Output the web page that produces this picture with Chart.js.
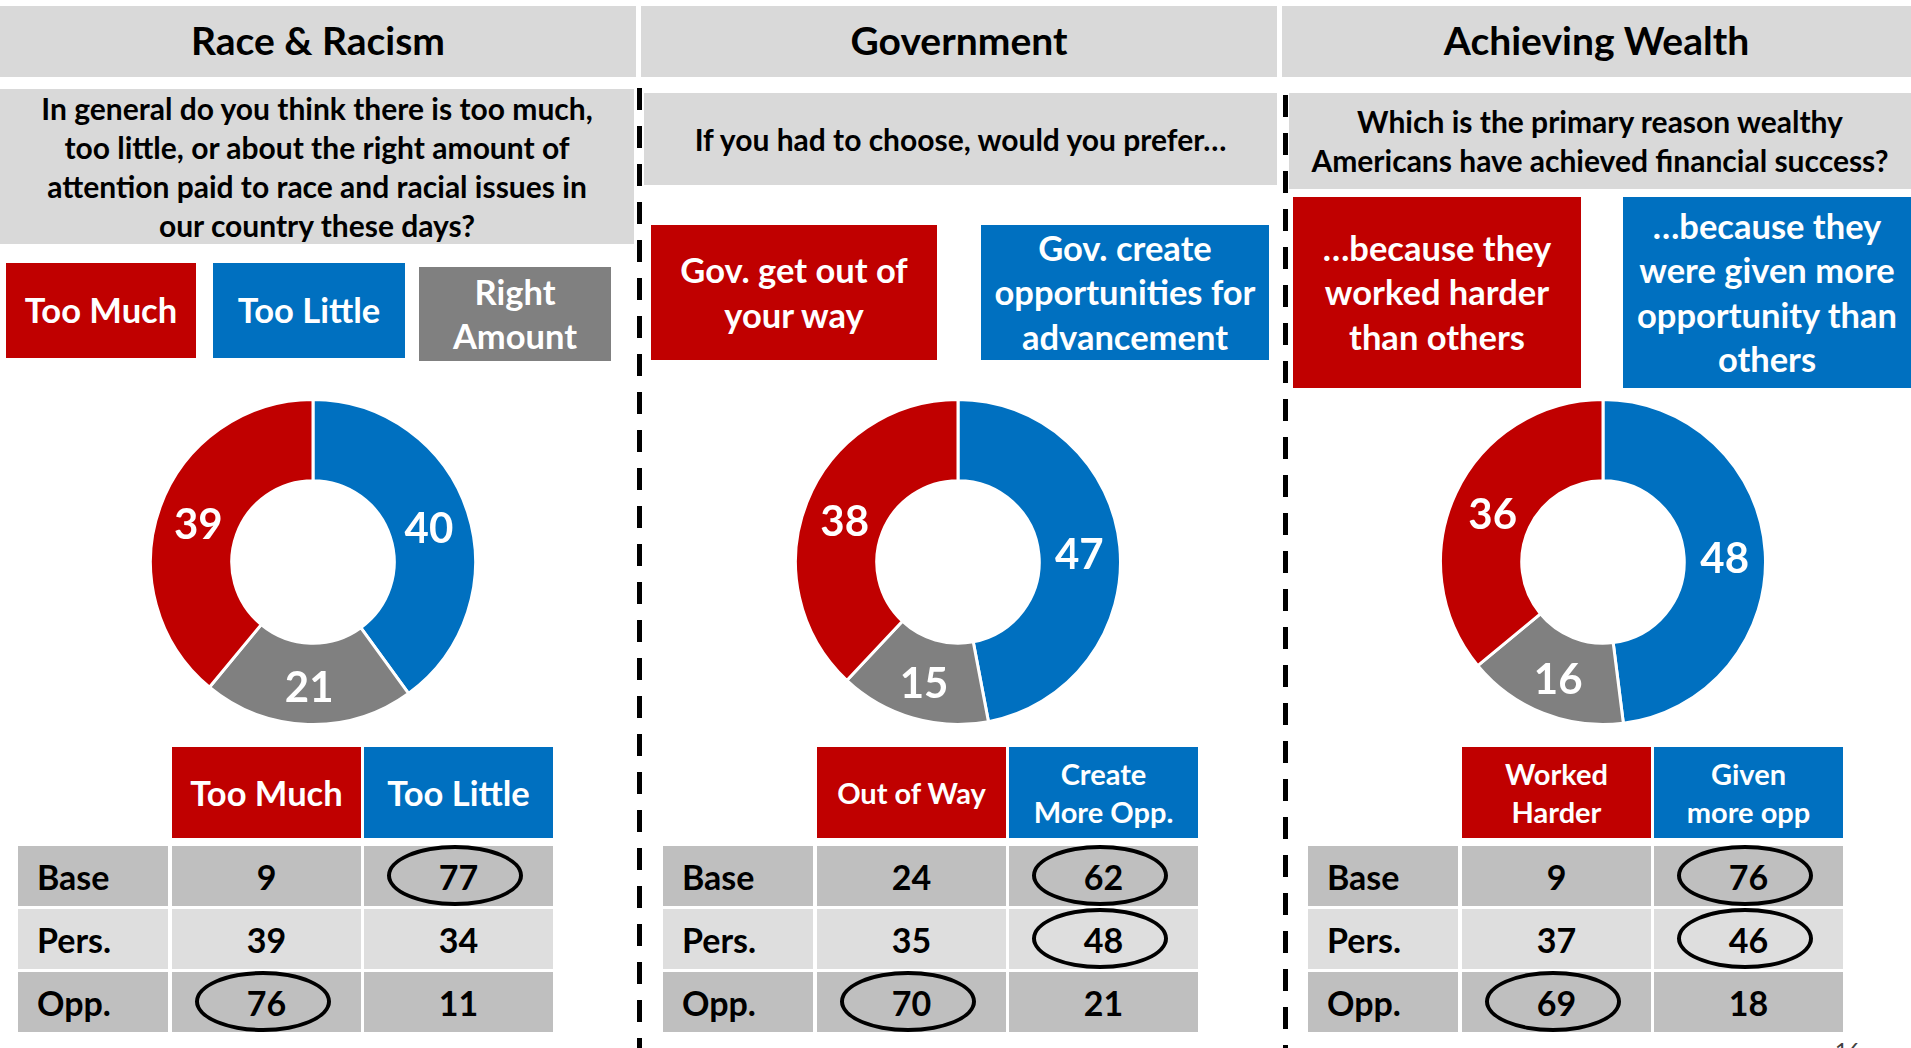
<!DOCTYPE html>
<html>
<head>
<meta charset="utf-8">
<script src="https://cdn.jsdelivr.net/npm/chart.js@4.4.1/dist/chart.umd.min.js"></script>
<style>
  html, body { margin: 0; padding: 0; background: #fff; }
  body { width: 1911px; height: 1048px; position: relative; overflow: hidden; font-family: Lato, "Open Sans", sans-serif; font-weight: 700; }
  .box { position: absolute; display: flex; align-items: center; justify-content: center; text-align: center; box-sizing: border-box; }
  .title { background: #d9d9d9; color: #000; font-size: 39px; padding-bottom: 4px; }
  .question { background: #d9d9d9; color: #000; font-size: 30px; line-height: 39px; }
  .legend { color: #fff; font-size: 34.5px; line-height: 44.5px; }
  .cell { font-size: 34px; color: #000; }
  .rowlabel { justify-content: flex-start; padding-left: 19px; }
  .thead { color: #fff; }
  .ring { position: absolute; border: 4px solid #000; border-radius: 50%; box-sizing: border-box; }
  .dash { position: absolute; width: 5px; background: repeating-linear-gradient(to bottom, #000 0 22px, transparent 22px 38px); }
  canvas { position: absolute; }
</style>
</head>
<body>
<script>
// Daten
const panelTitles = ['Race & Racism', 'Government', 'Achieving Wealth'];
const questions = [
    'In general do you think there is too much,<br>too little, or about the right amount of<br>attention paid to race and racial issues in<br>our country these days?',
    'If you had to choose, would you prefer\u2026',
    'Which is the primary reason wealthy<br>Americans have achieved financial success?'
];
const legendLabels = [
    ['Too Much', 'Too Little', 'Right<br>Amount'],
    ['Gov. get out of<br>your way', 'Gov. create<br>opportunities for<br>advancement'],
    ['\u2026because they<br>worked harder<br>than others', '\u2026because they<br>were given more<br>opportunity than<br>others']
];
// order: blue, gray, red (clockwise from top)
const donutLabels = ['Blue', 'Gray', 'Red'];
const raceValues = [40, 21, 39];
const govValues = [47, 15, 38];
const wealthValues = [48, 16, 36];
const donutValues = [raceValues, govValues, wealthValues];

const tableHeaders = [
    ['Too Much', 'Too Little'],
    ['Out of Way', 'Create<br>More Opp.'],
    ['Worked<br>Harder', 'Given<br>more opp']
];
const rowLabels = ['Base', 'Pers.', 'Opp.'];
const raceTable = [[9, 77], [39, 34], [76, 11]];
const govTable = [[24, 62], [35, 48], [70, 21]];
const wealthTable = [[9, 76], [37, 46], [69, 18]];
const tableValues = [raceTable, govTable, wealthTable];
// [row, col] of circled values
const circled = [
    [[0, 1], [2, 0]],
    [[0, 1], [1, 1], [2, 0]],
    [[0, 1], [1, 1], [2, 0]]
];

const RED = '#c00000', BLUE = '#0070c0', GRAY = '#808080';

// Layout
const titleBoxes = [[0, 6, 636, 71], [641, 6, 636, 71], [1282, 6, 629, 71]];
const questionBoxes = [[0, 89, 634, 155], [644, 93, 633, 92], [1289, 93, 622, 96]];
const legendBoxes = [
    [[6, 263, 190, 95, RED], [213, 263, 192, 95, BLUE], [419, 267, 192, 94, GRAY]],
    [[651, 225, 286, 135, RED], [981, 225, 288, 135, BLUE]],
    [[1293, 197, 288, 191, RED], [1623, 197, 288, 191, BLUE]]
];
const donutCenters = [[313, 562], [958, 562], [1603, 562]];
const panelOffset = 645;

function addBox(cls, x, y, w, h, html, bg) {
    const d = document.createElement('div');
    d.className = 'box ' + cls;
    d.style.left = x + 'px';
    d.style.top = y + 'px';
    d.style.width = w + 'px';
    d.style.height = h + 'px';
    if (bg) d.style.background = bg;
    d.innerHTML = html;
    document.body.appendChild(d);
    return d;
}

// dashed separators
[[637, 88], [1283, 95]].forEach(([x, y]) => {
    const d = document.createElement('div');
    d.className = 'dash';
    d.style.left = x + 'px';
    d.style.top = y + 'px';
    d.style.height = (1048 - y) + 'px';
    document.body.appendChild(d);
});

const labelPlugin = {
    id: 'arcLabels',
    afterDatasetsDraw(chart) {
        const ctx = chart.ctx;
        const meta = chart.getDatasetMeta(0);
        ctx.save();
        ctx.fillStyle = '#fff';
        ctx.font = '700 42px Lato, "Open Sans", sans-serif';
        ctx.textAlign = 'center';
        ctx.textBaseline = 'middle';
        meta.data.forEach((arc, i) => {
            const p = arc.getCenterPoint();
            ctx.fillText(chart.data.datasets[0].data[i], p.x, p.y + 5);
        });
        ctx.restore();
    }
};

panelTitles.forEach((t, p) => {
    const [tx, ty, tw, th] = titleBoxes[p];
    addBox('title', tx, ty, tw, th, t);
    const [qx, qy, qw, qh] = questionBoxes[p];
    addBox('question', qx, qy, qw, qh, questions[p]);

    legendBoxes[p].forEach((b, i) => {
        addBox('legend', b[0], b[1], b[2], b[3], legendLabels[p][i], b[4]);
    });

    // donut
    const size = 328;
    const cv = document.createElement('canvas');
    cv.width = size;
    cv.height = size;
    cv.style.left = (donutCenters[p][0] - size / 2) + 'px';
    cv.style.top = (donutCenters[p][1] - size / 2) + 'px';
    document.body.appendChild(cv);
    new Chart(cv.getContext('2d'), {
        type: 'doughnut',
        data: {
            labels: donutLabels,
            datasets: [{
                data: donutValues[p],
                backgroundColor: [BLUE, GRAY, RED],
                borderColor: '#fff',
                borderWidth: 3
            }]
        },
        options: {
            responsive: false,
            animation: false,
            cutout: '50%',
            plugins: { legend: { display: false }, tooltip: { enabled: false } }
        },
        plugins: [labelPlugin]
    });

    // table
    const ox = p * panelOffset;
    const colX = [18 + ox, 172 + ox, 364 + ox];
    const colW = [150, 189, 189];
    const headY = 747, headH = 91;
    const rowY = [846, 909, 972], rowH = 60;
    const smallHead = p > 0;
    tableHeaders[p].forEach((h, c) => {
        const d = addBox('cell thead', colX[c + 1], headY, colW[c + 1], headH, h, c === 0 ? RED : BLUE);
        if (smallHead) { d.style.fontSize = '29px'; d.style.lineHeight = '38px'; }
        else d.style.fontSize = '34.5px';
    });
    rowLabels.forEach((r, ri) => {
        const bg = ri === 1 ? '#dedede' : '#bfbfbf';
        addBox('cell rowlabel', colX[0], rowY[ri], colW[0], rowH, r, bg);
        tableValues[p][ri].forEach((v, c) => {
            addBox('cell', colX[c + 1], rowY[ri], colW[c + 1], rowH, v, bg);
        });
    });
    circled[p].forEach(([ri, c]) => {
        const e = document.createElement('div');
        e.className = 'ring';
        const cx = colX[c + 1] + colW[c + 1] / 2 - 4;
        const cy = rowY[ri] + rowH / 2;
        e.style.left = (cx - 68) + 'px';
        e.style.top = (cy - 31) + 'px';
        e.style.width = '136px';
        e.style.height = '61px';
        document.body.appendChild(e);
    });
});

// page number (cut off at the bottom edge)
const pn = document.createElement('div');
pn.style.cssText = 'position:absolute;left:1835px;top:1036px;font-size:22px;font-weight:400;color:#404040;';
pn.textContent = '16';
document.body.appendChild(pn);
</script>
</body>
</html>
